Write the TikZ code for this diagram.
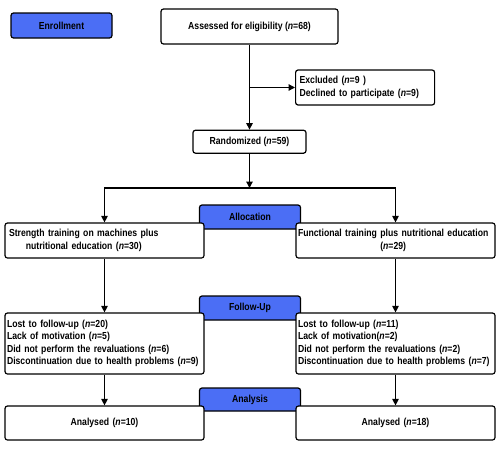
\documentclass[tikz,border=0pt]{standalone}
\usepackage{fontspec}
\usepackage{tikz}
\usetikzlibrary{arrows.meta, positioning, calc}

\newfontfamily\flowfont{Liberation Sans}[FakeStretch=0.85]
\newcommand\flowtext{\flowfont\bfseries\fontsize{10.2}{12.5}\selectfont}
\definecolor{phaseblue}{RGB}{75,110,245}

\begin{document}
\begin{tikzpicture}[x=1pt,y=1pt,line width=1.2pt,>={Triangle[length=6.5pt,width=6.5pt]}]
	\tikzset{
		box/.style={draw, rounded corners=2.5pt, fill=white, inner sep=0pt, font=\flowtext},
		phase/.style={box, fill=phaseblue, minimum width=101pt, minimum height=24pt},
		arm/.style={box, minimum width=199pt, text width=195pt, inner xsep=2pt}
	}
	\useasboundingbox (0,0) rectangle (500,-450);

	% enrollment
	\node[phase, minimum height=25pt] (enroll) at (61.5,-25.5) {Enrollment};
	\node[box, minimum width=177pt, minimum height=35pt] (assess) at (249.5,-26.5) {Assessed for eligibility (\textit{n}=68)};
	\node[box, text width=131pt, inner xsep=4pt, minimum height=35pt, align=left, anchor=west] (excl) at (295,-87.5) {Excluded (\textit{n}=9 )\\Declined to participate (\textit{n}=9)};
	\node[box, minimum width=113pt, minimum height=23pt] (rand) [below=85pt of assess] {Randomized (\textit{n}=59)};
	\coordinate (split) at (assess.south |- excl.west);
	\coordinate (fork) at (249.5,-188);

	% allocation
	\node[phase] (alloc) at (250,-217) {Allocation};
	\node[arm, minimum height=35pt, align=left] (left1) at (104.5,-240.5) {\hspace*{2pt}\begin{tabular}{@{}c@{}}Strength training on machines plus\\nutritional education (\textit{n}=30)\end{tabular}};
	\node[arm, minimum height=35pt, align=left] (right1) at (395.5,-240.5) {\begin{tabular}{@{}c@{}}Functional training plus nutritional education\\(\textit{n}=29)\end{tabular}};

	% follow-up
	\node[phase] (follow) at (250,-308) {Follow-Up};
	\node[arm, minimum height=61pt, align=left] (left2) at (104.5,-343.5) {Lost to follow-up (\textit{n}=20)\\Lack of motivation (\textit{n}=5)\\Did not perform the revaluations (\textit{n}=6)\\Discontinuation due to health problems (\textit{n}=9)};
	\node[arm, minimum height=61pt, align=left] (right2) at (395.5,-343.5) {Lost to follow-up (\textit{n}=11)\\Lack of motivation(\textit{n}=2)\\Did not perform the revaluations (\textit{n}=2)\\Discontinuation due to health problems (\textit{n}=7)};

	% analysis
	\node[phase, minimum height=23pt] (analysis) at (250,-399.5) {Analysis};
	\node[arm, minimum height=34pt, align=center] (left3) at (104.5,-423) {Analysed (\textit{n}=10)};
	\node[arm, minimum height=34pt, align=center] (right3) at (395.5,-423) {Analysed (\textit{n}=18)};

	\path[->]
		(assess) edge (rand)
		(split) edge (excl)
		(rand) edge (fork)
		(left1) edge (left2)
		(left2) edge (left3)
		(right1) edge (right2)
		(right2) edge (right3);
	\draw[->] (fork) -| (left1.north);
	\draw[->] (fork) -| (right1.north);
\end{tikzpicture}
\end{document}
